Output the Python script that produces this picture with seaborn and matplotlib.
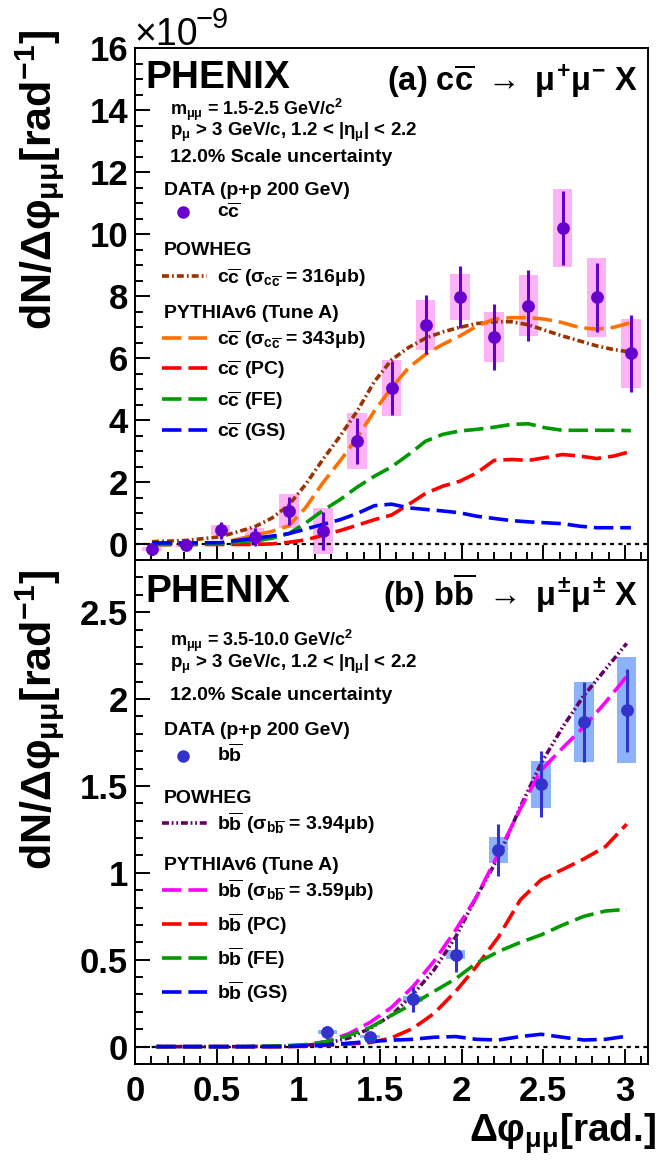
import numpy as np
import pandas as pd
import matplotlib
matplotlib.use("Agg")
import matplotlib.pyplot as plt
from matplotlib.lines import Line2D
from matplotlib.ticker import MultipleLocator, FormatStrFormatter
import seaborn as sns

# ---------------- (a) c cbar -> mu+ mu- X ----------------
cc_x = [0.105, 0.314, 0.524, 0.733, 0.942, 1.152, 1.361, 1.571, 1.780, 1.990,
        2.199, 2.409, 2.618, 2.827, 3.037]
cc_y = [-0.15, -0.02, 0.46, 0.24, 1.08, 0.44, 3.34, 5.04, 7.08, 7.97,
        6.68, 7.70, 10.2, 7.96, 6.16]
cc_stat = [0.20, 0.08, 0.27, 0.30, 0.44, 0.62, 0.74, 0.87, 0.95, 1.00,
           1.07, 1.13, 1.20, 1.11, 1.24]
cc_sys = [0.07, 0.05, 0.16, 0.29, 0.54, 0.74, 0.90, 0.89, 0.80, 0.75,
          0.80, 0.98, 1.27, 1.26, 1.12]

cc_curve_x = [0.105, 0.314, 0.524, 0.733, 0.838, 0.942, 1.047, 1.152, 1.257, 1.361,
              1.466, 1.571, 1.676, 1.780, 1.885, 1.990, 2.094, 2.199, 2.304, 2.409,
              2.513, 2.618, 2.723, 2.827, 2.932, 3.037]
cc_powheg = [0.09, 0.13, 0.25, 0.57, 0.85, 1.27, 1.95, 2.75, 3.50, 4.30,
             5.25, 5.95, 6.35, 6.65, 6.85, 7.00, 7.12, 7.18, 7.18, 7.08,
             6.90, 6.72, 6.56, 6.40, 6.28, 6.20]
cc_pythia = [0.0, 0.0, 0.04, 0.30, 0.42, 0.60, 1.20, 2.00, 2.70, 3.45,
             4.30, 5.05, 5.70, 6.13, 6.45, 6.72, 7.04, 7.26, 7.31, 7.31,
             7.26, 7.15, 6.99, 6.94, 7.00, 7.15]
cc_pc = [0.0, 0.0, 0.0, 0.0, 0.02, 0.07, 0.15, 0.30, 0.45, 0.62,
         0.80, 0.95, 1.29, 1.65, 1.88, 2.04, 2.31, 2.71, 2.74, 2.71,
         2.80, 2.90, 2.85, 2.77, 2.85, 3.00]
cc_fe = [0.0, 0.0, 0.02, 0.12, 0.20, 0.35, 0.70, 1.10, 1.45, 1.85,
         2.20, 2.50, 2.90, 3.33, 3.55, 3.66, 3.71, 3.78, 3.87, 3.89,
         3.76, 3.68, 3.68, 3.68, 3.68, 3.67]
cc_gs = [0.05, 0.05, 0.06, 0.20, 0.27, 0.35, 0.50, 0.65, 0.80, 1.00,
         1.25, 1.30, 1.18, 1.13, 1.08, 1.02, 0.91, 0.84, 0.77, 0.73,
         0.70, 0.67, 0.59, 0.54, 0.54, 0.54]

# ---------------- (b) b bbar -> mu+- mu+- X ----------------
bb_x = [1.178, 1.440, 1.702, 1.963, 2.225, 2.487, 2.749, 3.011]
bb_y = [0.083, 0.056, 0.273, 0.530, 1.130, 1.510, 1.870, 1.935]
bb_stat = [0.037, 0.015, 0.072, 0.100, 0.150, 0.190, 0.230, 0.240]
bb_sys = [0.013, 0.008, 0.016, 0.025, 0.074, 0.136, 0.230, 0.305]

bb_curve_x = [0.131, 0.393, 0.654, 0.916, 1.050, 1.178, 1.310, 1.440, 1.570, 1.702,
              1.830, 1.963, 2.090, 2.225, 2.360, 2.487, 2.620, 2.749, 2.880, 3.011]
bb_powheg = [0.0, 0.0, 0.0, 0.002, 0.008, 0.020, 0.050, 0.105, 0.180, 0.300,
             0.440, 0.630, 0.860, 1.090, 1.380, 1.630, 1.840, 2.020, 2.170, 2.320]
bb_pythia = [0.0, 0.0, 0.0, 0.002, 0.010, 0.030, 0.075, 0.140, 0.225, 0.345,
             0.490, 0.670, 0.860, 1.110, 1.370, 1.590, 1.720, 1.840, 1.980, 2.130]
bb_pc = [0.0, 0.0, 0.0, 0.0, 0.002, 0.008, 0.015, 0.023, 0.050, 0.105,
         0.190, 0.317, 0.460, 0.630, 0.845, 0.960, 1.020, 1.080, 1.150, 1.280]
bb_fe = [0.0, 0.0, 0.0, 0.005, 0.012, 0.030, 0.065, 0.110, 0.180, 0.246,
         0.317, 0.390, 0.480, 0.547, 0.600, 0.643, 0.700, 0.750, 0.780, 0.790]
bb_gs = [0.0, 0.0, 0.0, 0.0, 0.005, 0.010, 0.020, 0.030, 0.037, 0.042,
         0.054, 0.058, 0.042, 0.038, 0.058, 0.071, 0.054, 0.038, 0.042, 0.060]

# ---------------- style ----------------
sns.set_style("ticks")
plt.rcParams['font.family'] = ['Liberation Sans', 'DejaVu Sans']
plt.rcParams['font.weight'] = 'bold'
plt.rcParams['mathtext.fontset'] = 'custom'
plt.rcParams['mathtext.rm'] = 'Liberation Sans:bold'
plt.rcParams['mathtext.it'] = 'Liberation Sans:bold'
plt.rcParams['mathtext.bf'] = 'Liberation Sans:bold'
plt.rcParams['mathtext.sf'] = 'Liberation Sans:bold'
plt.rcParams['lines.scale_dashes'] = False
for k in ['text.color', 'axes.labelcolor', 'xtick.color', 'ytick.color',
          'axes.edgecolor']:
    plt.rcParams[k] = 'black'

W, H = 660, 1163
fig = plt.figure(figsize=(W / 100, H / 100), dpi=100)


def fx(px):
    return px / W


def fy(py):
    return 1 - py / H


ax_top = fig.add_axes([fx(135), fy(560), fx(648) - fx(135), fy(48) - fy(560)])
ax_bot = fig.add_axes([fx(135), fy(1064), fx(648) - fx(135), fy(560) - fy(1064)])

LONG = (0, (14, 5))
DDOT = (0, (5, 2.2, 1.3, 2.2))
DDOT2 = (0, (5, 2, 1.3, 2, 1.3, 2))


def draw_panel(ax, x, y, stat, sys_, box_col, pt_col, cx, curves):
    ax.bar(x, [2 * s for s in sys_], bottom=[v - s for v, s in zip(y, sys_)],
           width=0.12, color=box_col, linewidth=0, zorder=1)
    ax.axhline(0, color='black', lw=1.6, ls=(0, (3, 3)), zorder=2)
    for vals, col, ls in curves:
        sns.lineplot(x=cx, y=vals, ax=ax, color=col, lw=2.6, errorbar=None,
                     sort=False, zorder=3)
        ax.lines[-1].set_linestyle(ls)
    ax.errorbar(x, y, yerr=stat, fmt='none', ecolor=pt_col, elinewidth=2.2,
                capsize=0, zorder=4)
    sns.scatterplot(x=x, y=y, ax=ax, color=pt_col, s=85, linewidth=0, zorder=5)
    ax.set_xlim(0, np.pi)
    ax.xaxis.set_major_locator(MultipleLocator(0.5))
    ax.xaxis.set_minor_locator(MultipleLocator(0.1))
    ax.tick_params(which='both', direction='in', top=False, right=False,
                   width=1.4, labelsize=25)
    ax.tick_params(which='major', length=11)
    ax.tick_params(which='minor', length=5.5)
    ax.tick_params(axis='y', pad=5)
    ax.tick_params(axis='x', pad=8)
    for sp in ax.spines.values():
        sp.set_linewidth(1.4)
        sp.set_visible(True)
    ax.set_xlabel('')
    ax.set_ylabel('')


draw_panel(ax_top, cc_x, cc_y, cc_stat, cc_sys, '#ffb3f7', '#6600cc', cc_curve_x,
           [(cc_powheg, '#993300', DDOT), (cc_pythia, '#ff7000', LONG),
            (cc_pc, '#ff0000', LONG), (cc_fe, '#009900', LONG),
            (cc_gs, '#0000ff', LONG)])
ax_top.set_ylim(-0.5, 16)
ax_top.yaxis.set_major_locator(MultipleLocator(2))
ax_top.yaxis.set_minor_locator(MultipleLocator(0.5))
ax_top.tick_params(axis='x', labelbottom=False)

draw_panel(ax_bot, bb_x, bb_y, bb_stat, bb_sys, '#8cb2fa', '#3333cc', bb_curve_x,
           [(bb_powheg, '#660066', DDOT2), (bb_pythia, '#ff00ff', LONG),
            (bb_pc, '#ff0000', LONG), (bb_fe, '#009900', LONG),
            (bb_gs, '#0000ff', LONG)])
ax_bot.set_ylim(-0.1, 2.8)
ax_bot.yaxis.set_major_locator(MultipleLocator(0.5))
ax_bot.yaxis.set_minor_locator(MultipleLocator(0.1))
ax_bot.yaxis.set_major_formatter(FormatStrFormatter('%g'))
ax_bot.xaxis.set_major_formatter(FormatStrFormatter('%g'))

# ---------------- axis titles ----------------
ylab = r'dN/$\Delta\varphi_{\mu\mu}$[rad$^{-1}$]'
fig.text(fx(40), fy(30), ylab, rotation=90, ha='center', va='top', fontsize=31)
fig.text(fx(40), fy(570), ylab, rotation=90, ha='center', va='top', fontsize=31)
fig.text(fx(656), fy(1142), r'$\Delta\varphi_{\mu\mu}$[rad.]', ha='right',
         va='baseline', fontsize=28)
# axis multiplier (regular weight, like the reference)
fig.text(fx(134), fy(45), '\u00d710', ha='left', va='baseline', fontsize=27,
         fontweight='normal')
fig.text(fx(196), fy(28), '\u22129', ha='left', va='baseline', fontsize=21,
         fontweight='normal')


# ---------------- legends / labels ----------------
def legend_block(Y, title, mrange, data_col, marker_lbl, entries):
    fig.text(fx(145), fy(Y['phenix']), 'PHENIX', fontsize=28, va='baseline')
    fig.text(fx(638), fy(Y['title']), title, fontsize=23.5, va='baseline', ha='right')
    fig.text(fx(170), fy(Y['m']), mrange, fontsize=13, va='baseline')
    fig.text(fx(170), fy(Y['p']),
             r'p$_{\mu}$ > 3 GeV/c, 1.2 < |$\eta_{\mu}$| < 2.2',
             fontsize=13.5, va='baseline')
    fig.text(fx(170), fy(Y['scale']), '12.0% Scale uncertainty', fontsize=14,
             va='baseline')
    fig.text(fx(164), fy(Y['data']), 'DATA (p+p 200 GeV)', fontsize=14,
             va='baseline')
    fig.add_artist(Line2D([fx(183)], [fy(Y['dot'])], marker='o', color=data_col,
                          markersize=9, markeredgewidth=0))
    fig.text(fx(217), fy(Y['dot'] + 6), marker_lbl, fontsize=14, va='baseline')
    fig.text(fx(164), fy(Y['powheg']), 'POWHEG', fontsize=14, va='baseline')
    fig.text(fx(164), fy(Y['pythia']), 'PYTHIAv6 (Tune A)', fontsize=14,
             va='baseline')
    for yl, lbl, col, ls in entries:
        fig.add_artist(Line2D([fx(162), fx(207)], [fy(yl), fy(yl)], color=col,
                              lw=2.6, linestyle=ls))
        fig.text(fx(217), fy(yl + 7), lbl, fontsize=14, va='baseline')


pos_top = {'phenix': 88, 'title': 91, 'm': 115, 'p': 136, 'scale': 162, 'data': 195,
           'dot': 212, 'powheg': 255, 'pythia': 318}
pos_bot = {'phenix': 602, 'title': 606, 'm': 646, 'p': 668, 'scale': 700, 'data': 735,
           'dot': 756, 'powheg': 803, 'pythia': 870}

cbar = r'c$\overline{\mathrm{c}}$'
legend_block(pos_top, r'(a) c$\overline{\mathrm{c}}$ $\rightarrow$ $\mu^{+}\mu^{-}$ X',
             r'm$_{\mu\mu}$ = 1.5-2.5 GeV/c$^{2}$', '#6600cc', cbar,
             [(276, cbar + r' ($\sigma_{c\overline{c}}$ = 316$\mu$b)', '#993300', DDOT),
              (338, cbar + r' ($\sigma_{c\overline{c}}$ = 343$\mu$b)', '#ff7000', LONG),
              (368, cbar + ' (PC)', '#ff0000', LONG),
              (399, cbar + ' (FE)', '#009900', LONG),
              (430, cbar + ' (GS)', '#0000ff', LONG)])

bbar = r'b$\overline{\mathrm{b}}$'
legend_block(pos_bot, r'(b) b$\overline{\mathrm{b}}$ $\rightarrow$ $\mu^{\pm}\mu^{\pm}$ X',
             r'm$_{\mu\mu}$ = 3.5-10.0 GeV/c$^{2}$', '#3333cc', bbar,
             [(823, bbar + r' ($\sigma_{b\overline{b}}$ = 3.94$\mu$b)', '#660066', DDOT2),
              (890, bbar + r' ($\sigma_{b\overline{b}}$ = 3.59$\mu$b)', '#ff00ff', LONG),
              (924, bbar + ' (PC)', '#ff0000', LONG),
              (958, bbar + ' (FE)', '#009900', LONG),
              (992, bbar + ' (GS)', '#0000ff', LONG)])

fig.savefig('out.png', dpi=100)
